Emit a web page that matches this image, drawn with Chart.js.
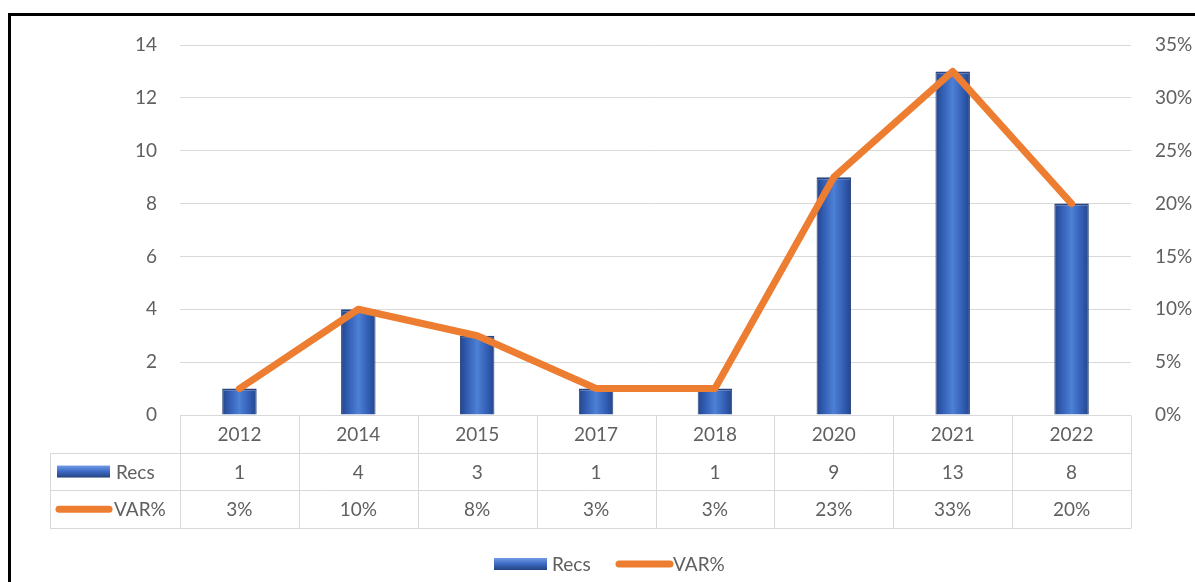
<!DOCTYPE html>
<html>
<head>
<meta charset="utf-8">
<script src="https://cdn.jsdelivr.net/npm/chart.js@4.4.1/dist/chart.umd.min.js"></script>
<style>
  html, body { margin: 0; padding: 0; background: #fff; overflow: hidden; }
  #wrap { position: relative; width: 1195px; height: 582px; }
  #frame { position: absolute; left: 8px; top: 13px; width: 1400px; height: 800px;
           border: 3px solid #000; box-sizing: border-box; pointer-events: none; }
  canvas { position: absolute; left: 0; top: 0; }
</style>
</head>
<body>
<div id="wrap">
  <canvas id="c" width="1195" height="582"></canvas>
  <div id="frame"></div>
</div>
<script>
// Records per year and their share of the total (percent)
const categories = ['2012', '2014', '2015', '2017', '2018', '2020', '2021', '2022'];
const recs = [1, 4, 3, 1, 1, 9, 13, 8];
const varPct = [2.5, 10, 7.5, 2.5, 2.5, 22.5, 32.5, 20];
const recsMax = 14, recsStep = 2;
const pctMax = 35, pctStep = 5;

const FONT = 'Lato, "Open Sans", sans-serif';
const FONT_SIZE = 19;
const TEXT = '#606060';
const GRID = '#d9d9d9';
const ORANGE = '#ED7D31';

const fmtPct = v => Math.round(v) + '%';

// horizontal cylinder-like shading for each column
function barFill(c) {
  const chart = c.chart;
  const xs = chart.scales.x;
  if (!chart.chartArea || !xs || c.dataIndex === undefined) return '#3c67c3';
  const cx = xs.getPixelForValue(c.dataIndex);
  const w = (chart.chartArea.right - chart.chartArea.left) / categories.length * 0.29;
  const g = chart.ctx.createLinearGradient(cx - w / 2, 0, cx + w / 2, 0);
  g.addColorStop(0, '#25458a');
  g.addColorStop(0.2, '#315db2');
  g.addColorStop(0.5, '#4d80d6');
  g.addColorStop(0.8, '#315db2');
  g.addColorStop(1, '#25458a');
  return g;
}

// data table under the plot plus the bottom legend
const tablePlugin = {
  id: 'dataTable',
  afterDraw(chart) {
    const ctx = chart.ctx;
    const a = chart.chartArea;
    const n = categories.length;
    const colW = (a.right - a.left) / n;
    const y0 = a.bottom, rowH = 37.7;
    const y1 = y0 + rowH, y2 = y1 + rowH, y3 = y2 + rowH;
    const labelLeft = 50;
    const barLabel = chart.data.datasets.find(d => d.type === 'bar').label;
    const lineLabel = chart.data.datasets.find(d => d.type === 'line').label;

    ctx.save();
    ctx.strokeStyle = GRID;
    ctx.lineWidth = 1;
    ctx.beginPath();
    const hl = (x1, x2, y) => { ctx.moveTo(x1, Math.round(y) + 0.5); ctx.lineTo(x2, Math.round(y) + 0.5); };
    const vl = (x, ya, yb) => { ctx.moveTo(Math.round(x) + 0.5, ya); ctx.lineTo(Math.round(x) + 0.5, yb); };
    hl(a.left, a.right, y0);
    hl(labelLeft, a.right, y1);
    hl(labelLeft, a.right, y2);
    hl(labelLeft, a.right, y3);
    vl(labelLeft, Math.round(y1) + 0.5, Math.round(y3) + 0.5);
    for (let i = 0; i <= n; i++) vl(a.left + i * colW, Math.round(y0) + 0.5, Math.round(y3) + 0.5);
    ctx.stroke();

    ctx.fillStyle = TEXT;
    ctx.font = FONT_SIZE + 'px ' + FONT;
    ctx.textAlign = 'center';
    ctx.textBaseline = 'middle';
    for (let i = 0; i < n; i++) {
      const cx = a.left + (i + 0.5) * colW;
      ctx.fillText(categories[i], cx, (y0 + y1) / 2 + 1);
      ctx.fillText(String(recs[i]), cx, (y1 + y2) / 2 + 1);
      ctx.fillText(fmtPct(varPct[i]), cx, (y2 + y3) / 2 + 1);
    }

    const barKey = (x, yc, w) => {
      const g = ctx.createLinearGradient(0, yc - 6, 0, yc + 6);
      g.addColorStop(0, '#6f9be6');
      g.addColorStop(0.5, '#3d69c4');
      g.addColorStop(1, '#24447f');
      ctx.fillStyle = g;
      ctx.fillRect(x, yc - 6, w, 12);
    };
    const lineKey = (x, yc, w) => {
      ctx.strokeStyle = ORANGE;
      ctx.lineWidth = 7;
      ctx.lineCap = 'round';
      ctx.beginPath();
      ctx.moveTo(x + 3, yc);
      ctx.lineTo(x + w - 3, yc);
      ctx.stroke();
    };

    ctx.textAlign = 'left';
    barKey(57, (y1 + y2) / 2, 53);
    lineKey(56, (y2 + y3) / 2, 56);
    ctx.fillStyle = TEXT;
    ctx.fillText(barLabel, 116, (y1 + y2) / 2 + 1);
    ctx.fillText(lineLabel, 114, (y2 + y3) / 2 + 1);

    const ly = 564;
    barKey(494, ly, 53);
    lineKey(616, ly, 57);
    ctx.fillStyle = TEXT;
    ctx.fillText(barLabel, 552, ly + 1);
    ctx.fillText(lineLabel, 673, ly + 1);
    ctx.restore();
  }
};

new Chart(document.getElementById('c'), {
  data: {
    labels: categories,
    datasets: [
      {
        type: 'bar',
        label: 'Recs',
        data: recs,
        yAxisID: 'y',
        backgroundColor: barFill,
        borderColor: '#2a4580',
        borderWidth: { top: 2, left: 1, right: 1, bottom: 0 },
        borderSkipped: 'bottom',
        categoryPercentage: 1,
        barPercentage: 0.29,
        order: 2
      },
      {
        type: 'line',
        label: 'VAR%',
        data: varPct,
        yAxisID: 'y1',
        borderColor: ORANGE,
        borderWidth: 7,
        borderJoinStyle: 'round',
        borderCapStyle: 'round',
        pointRadius: 0,
        tension: 0,
        order: 1
      }
    ]
  },
  options: {
    responsive: false,
    animation: false,
    layout: { padding: { left: 0, right: 0, top: 45, bottom: 167 } },
    plugins: { legend: { display: false }, tooltip: { enabled: false } },
    scales: {
      x: { display: false, offset: true, grid: { offset: true } },
      y: {
        position: 'left',
        min: 0, max: recsMax,
        ticks: { stepSize: recsStep, padding: 23, color: TEXT, font: { family: FONT, size: FONT_SIZE } },
        grid: { color: GRID, drawTicks: false },
        border: { display: false },
        afterFit: s => { s.width = 180; }
      },
      y1: {
        position: 'right',
        min: 0, max: pctMax,
        ticks: { stepSize: pctStep, padding: 24, color: TEXT, font: { family: FONT, size: FONT_SIZE }, callback: v => v + '%' },
        grid: { display: false, drawTicks: false },
        border: { display: false },
        afterFit: s => { s.width = 64; }
      }
    }
  },
  plugins: [tablePlugin]
});
</script>
</body>
</html>
